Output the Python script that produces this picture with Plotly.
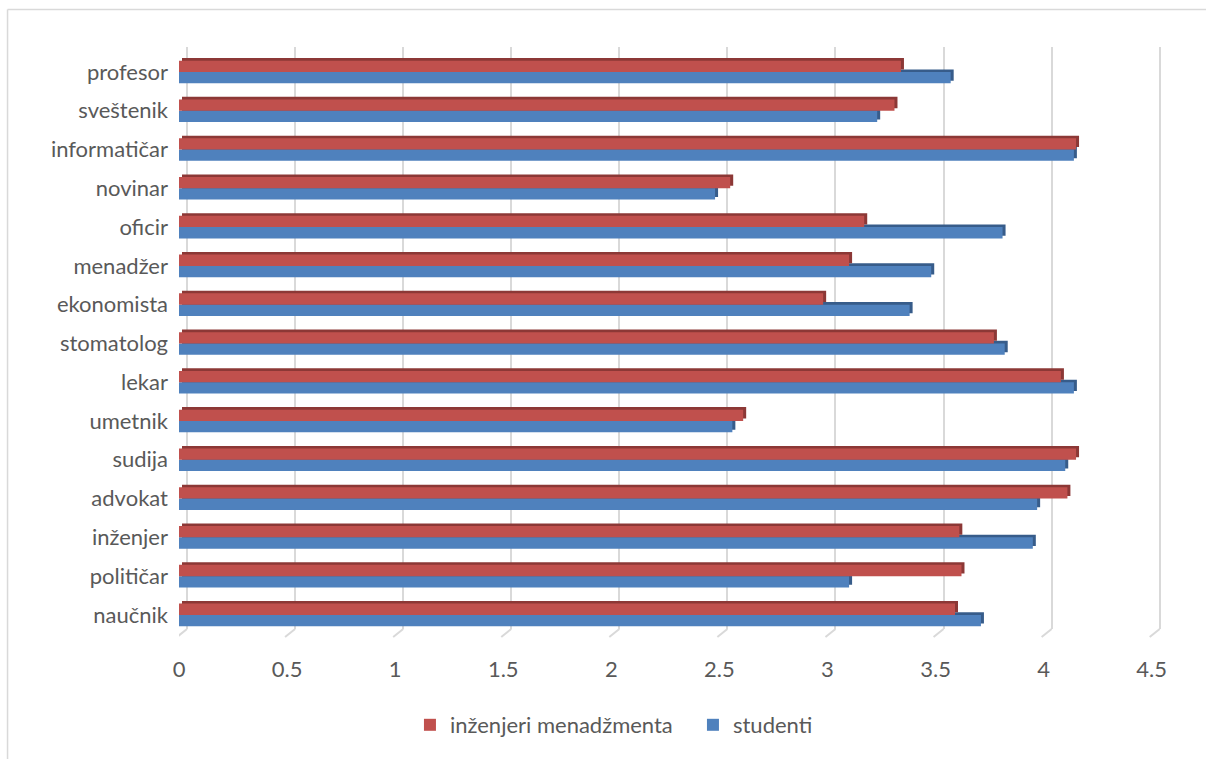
import plotly.graph_objects as go

# Occupations, listed from the bottom of the chart to the top
zanimanja = ["naučnik", "političar", "inženjer", "advokat", "sudija", "umetnik",
             "lekar", "stomatolog", "ekonomista", "menadžer", "oficir", "novinar",
             "informatičar", "sveštenik", "profesor"]

inzenjeri_menadzmenta = [3.59, 3.62, 3.61, 4.11, 4.15, 2.61, 4.08, 3.77, 2.98, 3.10,
                         3.17, 2.55, 4.15, 3.31, 3.34]
studenti = [3.71, 3.10, 3.95, 3.97, 4.10, 2.56, 4.14, 3.82, 3.38, 3.48, 3.81, 2.48,
            4.14, 3.23, 3.57]

x_ticks = [0, 0.5, 1, 1.5, 2, 2.5, 3, 3.5, 4, 4.5]

RED, RED_DARK = "#C0504D", "#8C3836"
BLUE, BLUE_DARK = "#4F81BD", "#375C8A"
TEXT = "#595959"
GRID = "#D9D9D9"
FONT = "Lato"
FS = 22

# plot-area geometry in pixels (used for the pseudo-3D offsets)
W, H = 1206, 759
x_max = 4.58
px_x = 216.2                        # pixels per value unit
L, T, B = 179, 47, 130
R = W - L - x_max * px_x
y_range = [-0.363, 14.644]
px_y = (H - T - B) / (y_range[1] - y_range[0])   # pixels per category

bar_w = 11.3 / px_y                 # bar thickness in category units
dx = 3.0 / px_x                     # depth of the 3D face (value units)
dy = 2.6 / px_y                     # depth of the 3D face (category units)
grid_shift = 8.0 / px_x             # back wall gridlines sit to the right

fig = go.Figure()

# darker depth faces (top and end caps), drawn behind the front faces
for vals, col, off in [(studenti, BLUE_DARK, -bar_w), (inzenjeri_menadzmenta, RED_DARK, 0)]:
    fig.add_trace(go.Bar(
        y=zanimanja, x=vals, base=[dx] * len(vals), orientation="h",
        offset=off + dy, width=bar_w, marker=dict(color=col, line=dict(width=0)),
        showlegend=False, hoverinfo="skip"))

# front faces
fig.add_trace(go.Bar(
    y=zanimanja, x=studenti, orientation="h", name="studenti",
    offset=-bar_w, width=bar_w, marker=dict(color=BLUE, line=dict(width=0))))
fig.add_trace(go.Bar(
    y=zanimanja, x=inzenjeri_menadzmenta, orientation="h", name="inženjeri menadžmenta",
    offset=0, width=bar_w, marker=dict(color=RED, line=dict(width=0))))

# gridlines on the back wall, with a small foot running to the floor front
fig.add_trace(go.Scatter(x=[None], y=[None], xaxis="x2", showlegend=False))
shapes = []
foot_h = 8.0 / (H - T - B)
for t in x_ticks:
    shapes.append(dict(type="line", xref="x2", yref="paper",
                       x0=t, y0=0, x1=t - 10.0 / px_x, y1=-foot_h,
                       line=dict(color=GRID, width=2)))

# chart border
def px2paper_x(p):
    return (p - L) / (W - L - R)

def px2paper_y(p):
    return (H - B - p) / (H - T - B)

shapes.append(dict(type="line", xref="paper", yref="paper",
                   x0=px2paper_x(7.5), y0=px2paper_y(9.5), x1=px2paper_x(1210), y1=px2paper_y(9.5),
                   line=dict(color=GRID, width=1.5)))
shapes.append(dict(type="line", xref="paper", yref="paper",
                   x0=px2paper_x(7.5), y0=px2paper_y(9.5), x1=px2paper_x(7.5), y1=px2paper_y(765),
                   line=dict(color=GRID, width=1.5)))

fig.update_layout(
    width=W, height=H,
    margin=dict(l=L, r=R, t=T, b=B),
    paper_bgcolor="white", plot_bgcolor="white",
    barmode="overlay",
    font=dict(family=FONT, size=FS, color=TEXT),
    xaxis=dict(range=[0, x_max], tickvals=x_ticks, showgrid=False, zeroline=False,
               showline=False, ticks="", ticklabelstandoff=25,
               tickfont=dict(family=FONT, size=FS, color=TEXT)),
    xaxis2=dict(range=[-grid_shift, x_max - grid_shift], overlaying="x", tickvals=x_ticks,
                showgrid=True, gridcolor=GRID, gridwidth=2, zeroline=False,
                showticklabels=False, ticks="", layer="below traces"),
    yaxis=dict(range=y_range, categoryorder="array", categoryarray=zanimanja,
               showgrid=False, zeroline=False, showline=False, ticks="",
               ticklabelstandoff=10, tickfont=dict(family=FONT, size=FS, color=TEXT)),
    legend=dict(orientation="h", x=px2paper_x(410), xanchor="left",
                y=px2paper_y(725), yanchor="middle", traceorder="reversed",
                entrywidth=238, entrywidthmode="pixels",
                font=dict(family=FONT, size=FS, color=TEXT)),
    shapes=shapes,
    showlegend=True,
)

fig.write_html("out.html")
